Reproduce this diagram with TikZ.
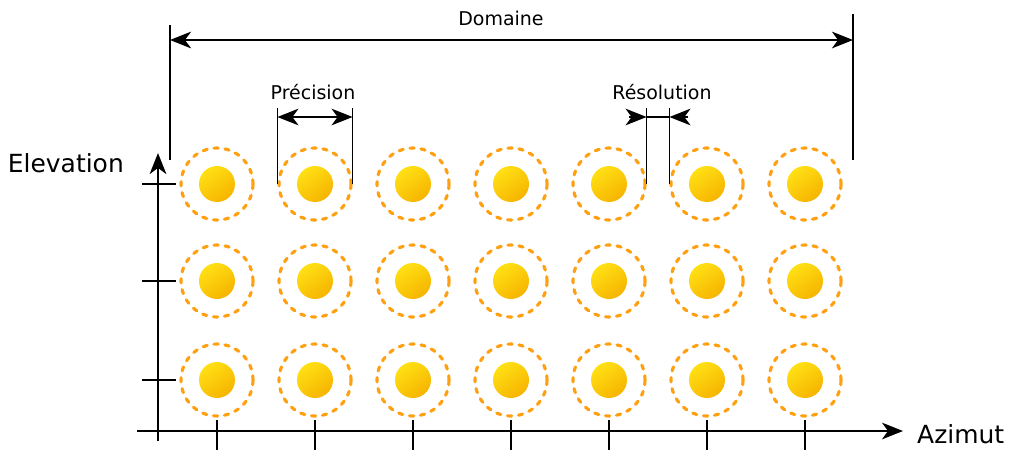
\documentclass[tikz,border=0pt]{standalone}
\usepackage{fontspec}
\setmainfont{DejaVu Sans}
\usetikzlibrary{arrows.meta}
\definecolor{sunlight}{HTML}{FFE014}
\definecolor{sundark}{HTML}{F6B400}
\definecolor{halo}{HTML}{FFA010}
\begin{document}
\begin{tikzpicture}[x=0.02cm, y=-0.02cm,
        line/.style={draw, line width=0.8pt},
        tip/.style={-{Stealth[length=12pt,width=9.5pt,inset=3.5pt]}},
        dim/.style={{Stealth[length=12pt,width=9.5pt,inset=3.5pt]}-{Stealth[length=12pt,width=9.5pt,inset=3.5pt]}},
        sun/.style={circle, minimum size=0.72cm, inner sep=0pt, top color=sunlight, bottom color=sundark, shading angle=35},
        halo/.style={circle, minimum size=1.44cm, inner sep=0pt, draw=halo, line width=1.8pt, line cap=round, dash pattern=on 2.4pt off 3.9pt},
        dimtext/.style={font=\fontsize{10.8}{13}\selectfont},
        axistext/.style={font=\fontsize{14.2}{17}\selectfont}
		]
		\useasboundingbox (0,0) rectangle (1013,450);
		% sources
		\foreach \c/\x in {1/217,2/315,3/413,4/511,5/609,6/707,7/805}{
			\foreach \r/\y in {1/184,2/281,3/380}{
				\node[halo] (h\c\r) at (\x,\y) {};
				\node[sun] (s\c\r) at (\x,\y) {};
			}
		}
		% axes
		\coordinate (ybot) at (158,441);
		\coordinate (ytop) at (158,153);
		\coordinate (xleft) at (137,431);
		\coordinate (xright) at (903,431);
		\draw[line, tip] (ybot) -- (ytop);
		\draw[line, tip] (xleft) -- (xright);
		\node[axistext, anchor=east] (elev) at (130,163) {Elevation};
		\node[axistext, anchor=west] (azim) at (911,434) {Azimut};
		\foreach \c in {1,...,7}
			\draw[line] (s\c3 |- xleft) ++(0,-11) -- ++(0,30);
		\foreach \r in {1,2,3}
			\draw[line] (ybot |- s1\r) ++(-16,0) -- ++(34,0);
		% domaine
		\coordinate (dl) at (170,160);
		\coordinate (dr) at (853,160);
		\draw[line] (dl) -- ++(0,-135);
		\draw[line] (dr) -- ++(0,-146);
		\draw[line, dim] (dl |- 0,40) -- (dr |- 0,40);
		\node[dimtext] (domaine) at (501,18) {Domaine};
		% precision
		\coordinate (pl) at (h21.west);
		\coordinate (pr) at (h21.east);
		\draw[line] (pl) -- (pl |- 0,108);
		\draw[line] (pr) -- (pr |- 0,108);
		\draw[line, dim] (pl |- 0,117) -- (pr |- 0,117);
		\node[dimtext] (precision) at (313,92) {Précision};
		% resolution
		\coordinate (rl) at (h51.east);
		\coordinate (rr) at (h61.west);
		\draw[line] (rl) -- (rl |- 0,108);
		\draw[line] (rr) -- (rr |- 0,108);
		\draw[line] (rl |- 0,117) -- (rr |- 0,117);
		\draw[line, tip] (rl |- 0,117) ++(-18,0) -- (rl |- 0,117);
		\draw[line, tip] (rr |- 0,117) ++(19,0) -- (rr |- 0,117);
		\node[dimtext] (resolution) at (662,92) {Résolution};
	\end{tikzpicture}
\end{document}
